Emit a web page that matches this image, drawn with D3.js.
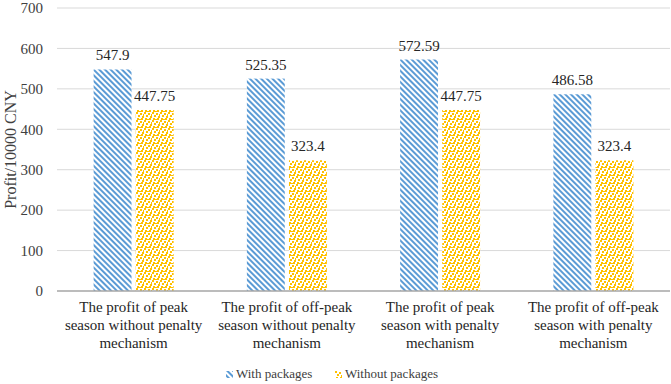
<!DOCTYPE html>
<html><head><meta charset="utf-8">
<script src="https://cdn.jsdelivr.net/npm/d3@7"></script>
<style>
body{margin:0;background:#fff}
svg text, svg tspan{font-family:"Liberation Serif" !important}
</style>
</head><body><svg id="c" width="671" height="384" font-family="Liberation Serif"></svg>
<script>
const categories = [
  ["The profit of peak","season without penalty","mechanism"],
  ["The profit of off-peak","season without penalty","mechanism"],
  ["The profit of peak","season with penalty","mechanism"],
  ["The profit of off-peak","season with penalty","mechanism"]
];
const seriesNames = ["With packages","Without packages"];
const withPackages = [547.9, 525.35, 572.59, 486.58];
const withoutPackages = [447.75, 323.4, 447.75, 323.4];
const yTicks = [0,100,200,300,400,500,600,700];
const yTitle = "Profit/10000 CNY";

const svg = d3.select("#c");
const defs = svg.append("defs");
const ps = defs.append("pattern").attr("id","stripe").attr("patternUnits","userSpaceOnUse")
  .attr("width",4).attr("height",4).attr("patternTransform","rotate(-45)");
ps.append("rect").attr("width",4).attr("height",4).attr("fill","#fff");
ps.append("rect").attr("width",2).attr("height",4).attr("fill","#5b9bd5");
const pd = defs.append("pattern").attr("id","dots").attr("patternUnits","userSpaceOnUse")
  .attr("width",8).attr("height",8);
pd.append("rect").attr("width",8).attr("height",8).attr("fill","#fff");
[[0,0],[4,1],[2,3],[6,4],[1,6],[5,6],[7,2],[3,7]].forEach(([x,y])=>{
  pd.append("rect").attr("x",x).attr("y",y).attr("width",2).attr("height",2).attr("fill","#ffc000");
});

const m = {l:57, r:1, t:8, b:93};
const W = 671, H = 384;
const x0 = d3.scaleBand().domain(d3.range(categories.length)).range([m.l, W-m.r]).paddingInner(0).paddingOuter(0);
const x1 = d3.scaleBand().domain([0,1]).range([x0.bandwidth()/2-40, x0.bandwidth()/2+40]).paddingInner(0.1);
const y = d3.scaleLinear().domain([0,700]).range([H-m.b, m.t]);

svg.append("g").selectAll("line").data(yTicks.filter(d=>d>0)).join("line")
  .attr("x1",m.l).attr("x2",W-m.r).attr("y1",d=>y(d)).attr("y2",d=>y(d))
  .attr("stroke","#d9d9d9").attr("stroke-width",1);

const ya = svg.append("g").attr("transform",`translate(${m.l},0)`)
  .call(d3.axisLeft(y).tickValues(yTicks).tickSize(0).tickPadding(14));
ya.attr("font-family","Liberation Serif").attr("font-size",15);
ya.select(".domain").remove();
ya.selectAll("text").attr("fill","#404040");

svg.append("text").attr("transform",`translate(16,${(y(0)+y(700))/2}) rotate(-90)`)
  .attr("text-anchor","middle").attr("font-size",16).attr("fill","#404040").text(yTitle);

const series = [withPackages, withoutPackages];
const fills = ["url(#stripe)","url(#dots)"];
series.forEach((vals,si)=>{
  const g = svg.append("g");
  g.selectAll("rect").data(vals).join("rect")
    .attr("x",(d,i)=>x0(i)+x1(si)).attr("width",x1.bandwidth())
    .attr("y",d=>y(d)).attr("height",d=>y(0)-y(d)).attr("fill",fills[si]);
  g.selectAll("text").data(vals).join("text")
    .attr("x",(d,i)=>x0(i)+x1(si)+x1.bandwidth()/2).attr("y",d=>y(d)-9)
    .attr("text-anchor","middle").attr("font-size",15).attr("fill","#262626").text(d=>d);
});

svg.append("line").attr("x1",m.l).attr("x2",W-m.r).attr("y1",y(0)).attr("y2",y(0))
  .attr("stroke","#a6a6a6").attr("stroke-width",1.5);

const xl = svg.append("g");
categories.forEach((lines,i)=>{
  const t = xl.append("text").attr("text-anchor","middle").attr("font-size",15).attr("fill","#262626");
  lines.forEach((ln,j)=>{
    t.append("tspan").attr("x",x0(i)+x0.bandwidth()/2).attr("y",y(0)+21+j*18).text(ln);
  });
});

const leg = svg.append("g").attr("transform","translate(226,371)");
const legX = [0,109];
seriesNames.forEach((n,i)=>{
  const g = leg.append("g").attr("transform",`translate(${legX[i]},0)`);
  g.append("rect").attr("width",7).attr("height",7).attr("fill",fills[i]);
  g.append("text").attr("x",10).attr("y",7).attr("font-size",13).attr("fill","#404040").text(n);
});
</script></body></html>
